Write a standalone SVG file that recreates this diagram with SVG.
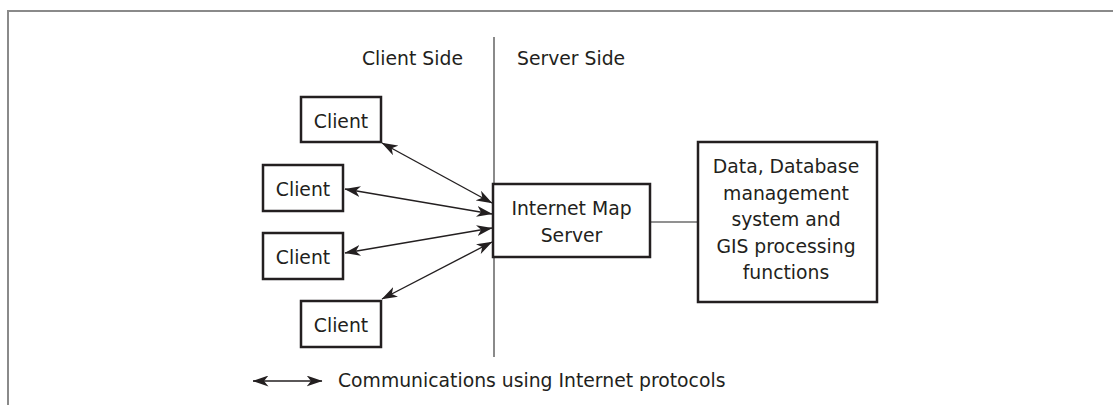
<svg xmlns="http://www.w3.org/2000/svg" width="1113" height="405" viewBox="0 0 1113 405">
<style>
  .frame{fill:none;stroke:#8a8a8a;stroke-width:2}
  .box{fill:#fff;stroke:#231f20;stroke-width:2.5}
  .t{font-family:"DejaVu Sans",sans-serif;font-size:18.8px;fill:#231f20}
  .c{text-anchor:middle}
  .div{stroke:#6d6d6d;stroke-width:1.6;fill:none}
  .arr{stroke:#231f20;stroke-width:1.4;fill:none;marker-start:url(#ah);marker-end:url(#ah)}
</style>
<defs>
  <marker id="ah" viewBox="0 0 16 11" refX="15.5" refY="5.5" markerWidth="16" markerHeight="11" markerUnits="userSpaceOnUse" orient="auto-start-reverse">
    <path d="M0,0 L16,5.5 L0,11 L4.5,5.5 z" fill="#231f20"/>
  </marker>
</defs>
<rect width="1113" height="405" fill="#fff"/>
<path class="frame" d="M8,405 V11 H1113"/>
<g id="labels">
  <text class="t" x="362" y="65">Client Side</text>
  <text class="t" x="517" y="65">Server Side</text>
</g>
<line id="divider" class="div" x1="494" y1="37" x2="494" y2="357"/>
<g id="connectors">
  <line class="arr" x1="382" y1="143" x2="492" y2="203"/>
  <line class="arr" x1="345" y1="189" x2="492" y2="214"/>
  <line class="arr" x1="345" y1="253" x2="492" y2="228"/>
  <line class="arr" x1="382" y1="299" x2="492" y2="242"/>
  <line class="div" x1="650" y1="222" x2="698" y2="222"/>
</g>
<g id="client1"><rect class="box" x="301" y="97" width="80" height="45"/><text class="t c" x="341" y="127.5">Client</text></g>
<g id="client2"><rect class="box" x="263" y="165" width="80" height="46"/><text class="t c" x="303" y="195.5">Client</text></g>
<g id="client3"><rect class="box" x="263" y="233" width="80" height="46"/><text class="t c" x="303" y="263.5">Client</text></g>
<g id="client4"><rect class="box" x="301" y="301" width="80" height="46"/><text class="t c" x="341" y="331.5">Client</text></g>
<g id="server"><rect class="box" x="493" y="184" width="157" height="73"/>
  <text class="t c" x="571.5" y="215">Internet Map</text>
  <text class="t c" x="571.5" y="242">Server</text>
</g>
<g id="data"><rect class="box" x="698" y="142" width="179" height="160"/>
  <text class="t c" x="786" y="173">Data, Database</text>
  <text class="t c" x="786" y="199.5">management</text>
  <text class="t c" x="786" y="226">system and</text>
  <text class="t c" x="786" y="252.5">GIS processing</text>
  <text class="t c" x="786" y="279">functions</text>
</g>
<g id="legend">
  <line class="arr" x1="253" y1="381" x2="322" y2="381"/>
  <text class="t" x="338" y="387">Communications using Internet protocols</text>
</g>
</svg>
